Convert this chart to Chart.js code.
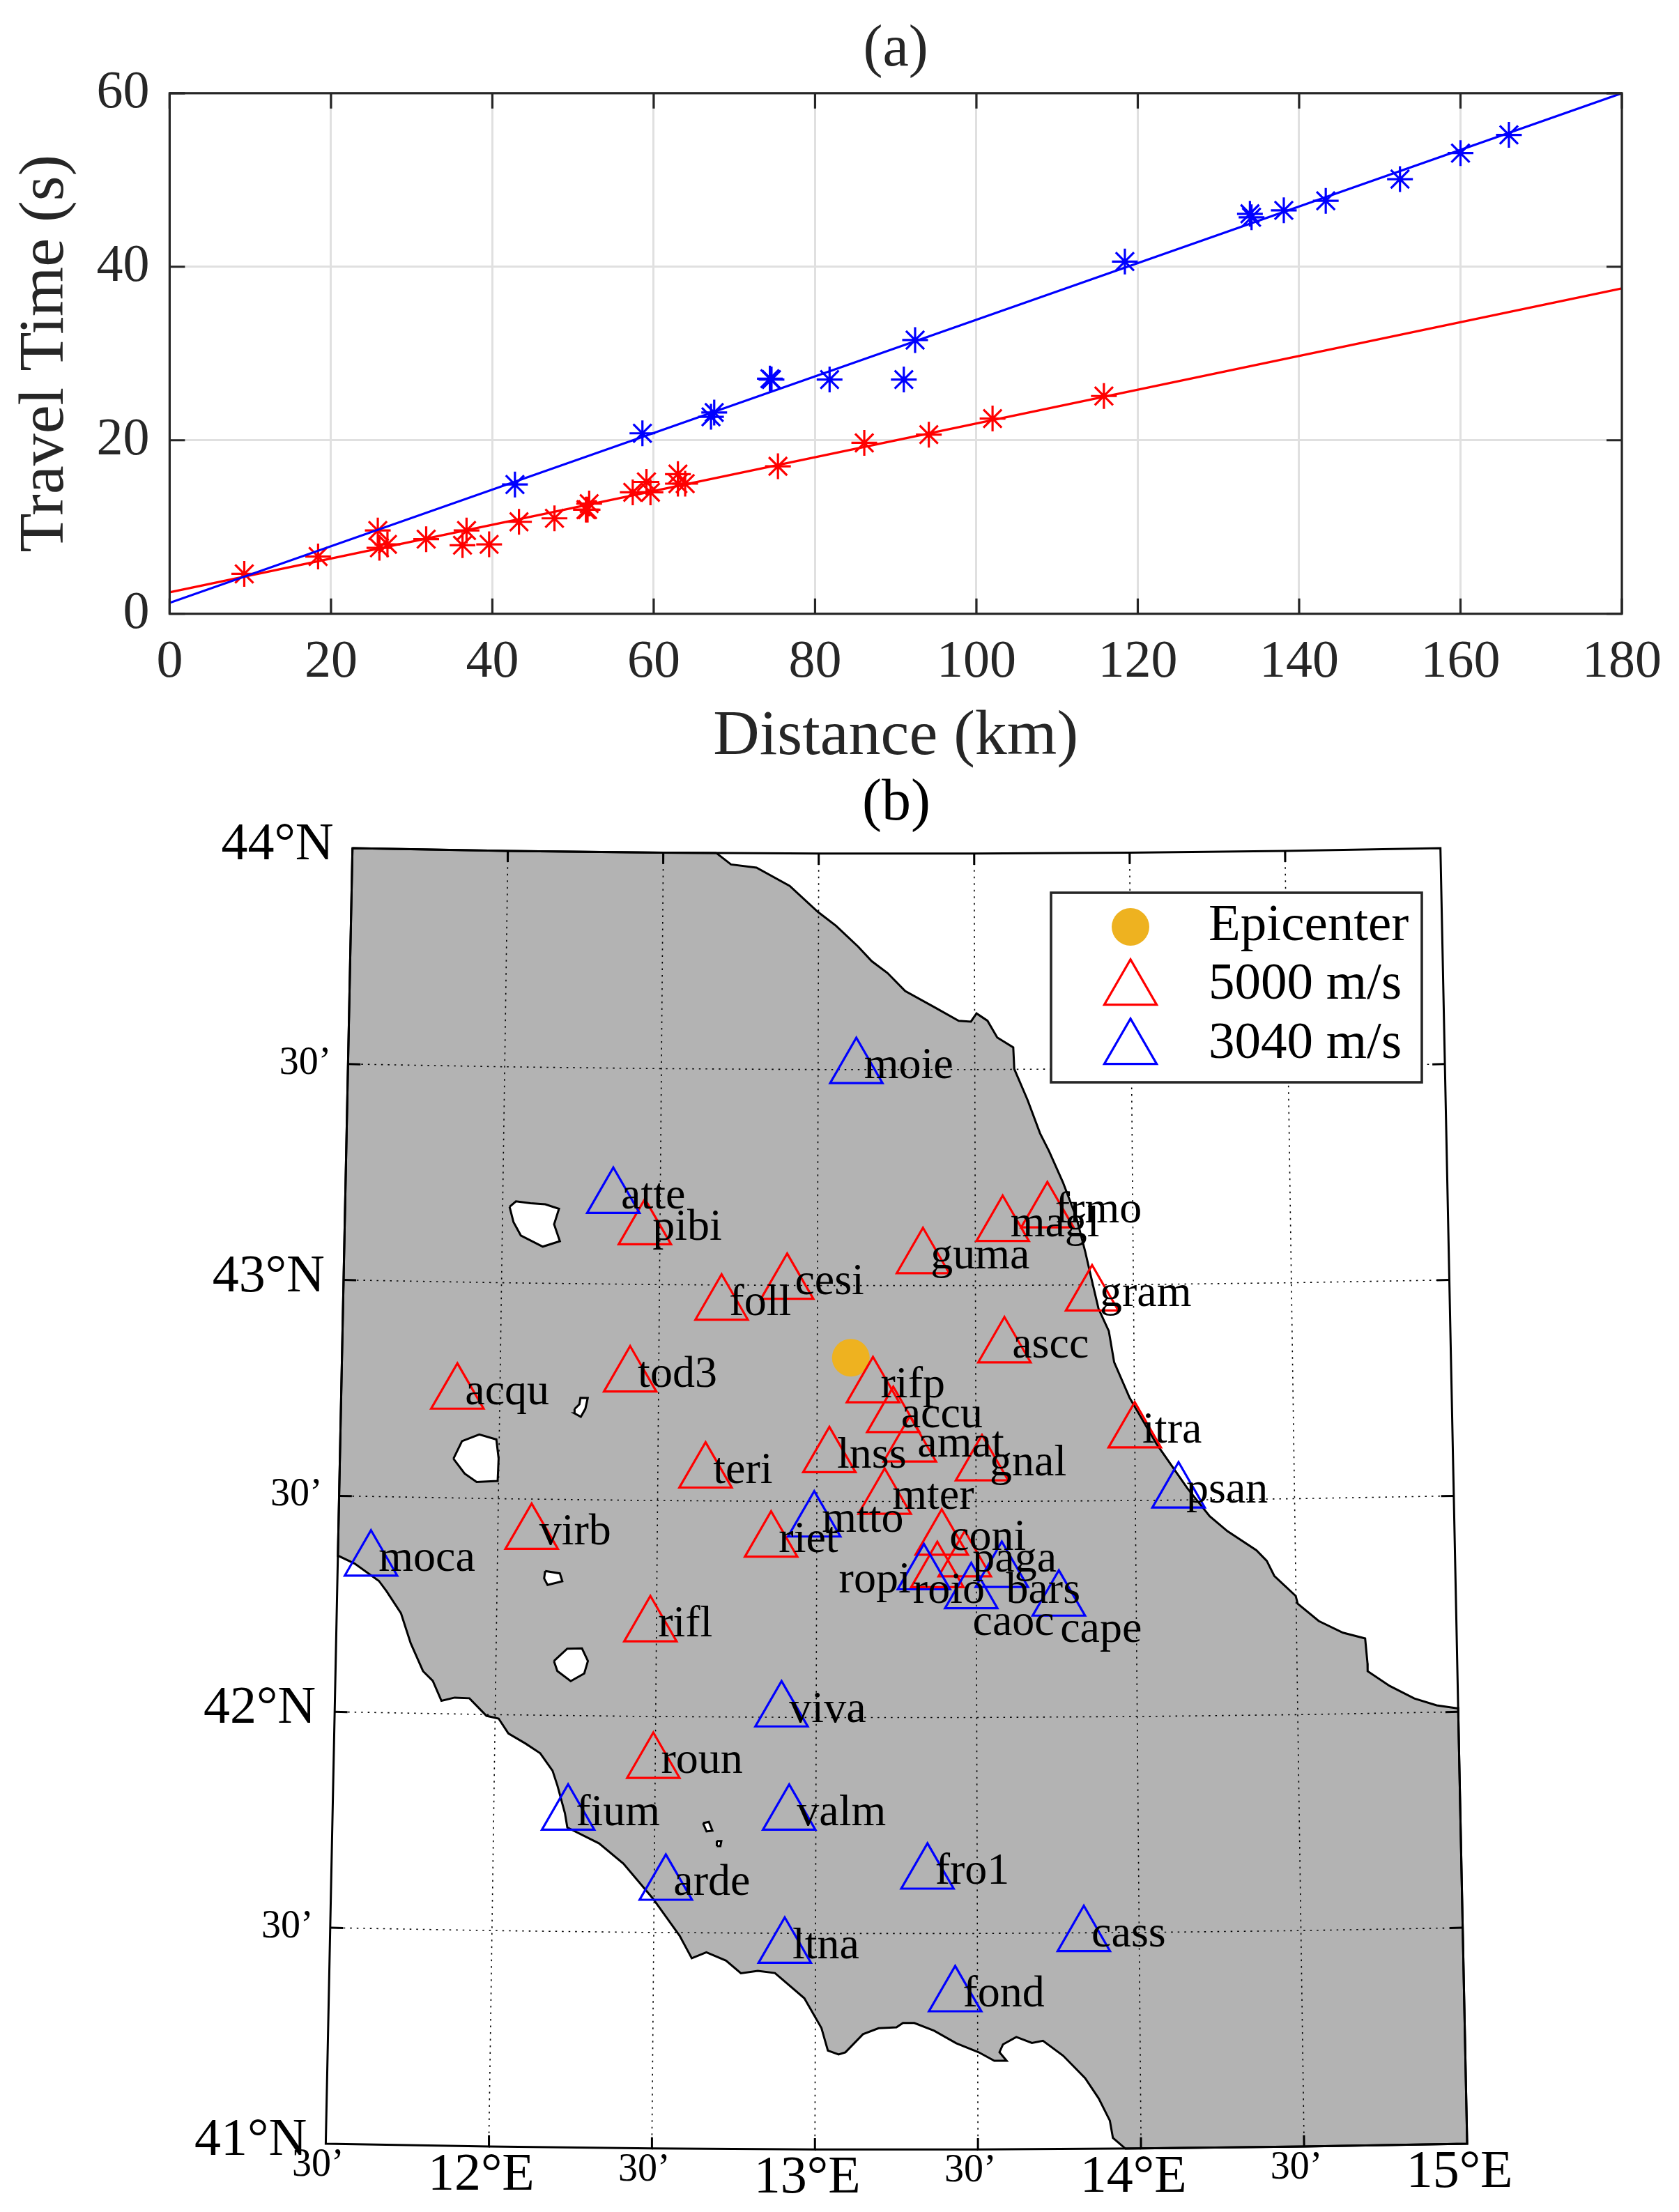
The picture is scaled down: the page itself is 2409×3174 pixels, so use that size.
<!DOCTYPE html>
<html><head><meta charset="utf-8"><title>Travel time and station map</title>
<style>html,body{margin:0;background:#fff}canvas{position:absolute;left:0}#a{top:0}#b{top:1090px}</style>
<script src="https://cdn.jsdelivr.net/npm/chart.js@4/dist/chart.umd.js"></script></head>
<body><canvas id="a" width="2409" height="1130"></canvas><canvas id="b" width="2409" height="2084"></canvas>
<script>
// ---- panel (a) data
const xTicks=[0,20,40,60,80,100,120,140,160,180];
const yTicks=[0,20,40,60];
const redDist=[9.25,18.4,25.8,26.0,27.0,31.8,36.3,36.8,39.6,43.3,47.7,51.6,51.8,52.0,57.4,59.1,59.6,63.0,63.0,63.9,75.4,86.1,94.1,102.0,115.8];
const redTime=[4.6,6.6,9.6,7.6,8.0,8.6,7.9,9.6,8.0,10.6,11.0,12.0,12.0,12.7,14.0,15.2,14.0,16.1,15.0,15.0,17.0,19.7,20.65,22.5,25.1];
const blueDist=[42.8,58.6,67.1,67.5,74.4,74.6,81.8,91.0,92.4,118.4,133.9,134.1,138.1,143.3,152.5,160.0,166.0];
const blueTime=[14.9,20.8,22.7,23.2,27.1,27.0,27.0,27.0,31.55,40.6,46.1,45.7,46.5,47.6,50.1,53.1,55.2];
const redFitX=[0,180],redFitY=[2.47,37.5];
const blueFitX=[0,180],blueFitY=[1.26,60];
// ---- panel (b) data: [lon,lat]
const coastNE=[[12.671,44.000],[12.718,43.974],[12.800,43.967],[12.907,43.925],[12.998,43.865],[13.056,43.833],[13.127,43.785],[13.171,43.751],[13.221,43.724],[13.278,43.682],[13.373,43.644],[13.449,43.613],[13.488,43.611],[13.506,43.630],[13.541,43.613],[13.572,43.574],[13.623,43.551],[13.626,43.501],[13.668,43.429],[13.707,43.352],[13.735,43.311],[13.779,43.238],[13.821,43.156],[13.848,43.078],[13.865,43.022],[13.889,42.945],[13.921,42.893],[13.937,42.821],[13.985,42.738],[14.068,42.631],[14.164,42.527],[14.233,42.462],[14.288,42.427],[14.378,42.382],[14.410,42.357],[14.433,42.322],[14.499,42.275],[14.505,42.257],[14.570,42.216],[14.645,42.188],[14.714,42.174],[14.720,42.116],[14.720,42.098],[14.788,42.063],[14.864,42.033],[14.933,42.016],[14.997,42.008]];
const coastSW=[[13.952,41.000],[13.914,41.025],[13.905,41.065],[13.871,41.117],[13.830,41.164],[13.763,41.216],[13.701,41.251],[13.667,41.246],[13.619,41.260],[13.578,41.243],[13.567,41.225],[13.589,41.205],[13.551,41.205],[13.503,41.225],[13.434,41.246],[13.366,41.275],[13.305,41.293],[13.270,41.293],[13.250,41.283],[13.195,41.281],[13.147,41.267],[13.093,41.225],[13.072,41.220],[13.039,41.229],[13.019,41.281],[12.966,41.350],[12.875,41.408],[12.822,41.413],[12.770,41.407],[12.724,41.436],[12.663,41.455],[12.618,41.441],[12.580,41.493],[12.496,41.579],[12.404,41.659],[12.328,41.705],[12.229,41.741],[12.221,41.774],[12.197,41.837],[12.181,41.872],[12.142,41.912],[12.096,41.934],[12.042,41.957],[12.011,41.991],[11.973,41.997],[11.919,42.037],[11.873,42.038],[11.832,42.030],[11.804,42.076],[11.773,42.098],[11.733,42.162],[11.701,42.231],[11.654,42.282],[11.630,42.305],[11.553,42.344],[11.502,42.361]];
const lakes=[
 [[12.022,43.176],[12.042,43.189],[12.088,43.185],[12.135,43.183],[12.179,43.173],[12.164,43.137],[12.183,43.098],[12.129,43.085],[12.059,43.110],[12.035,43.141]],
 [[12.236,42.710],[12.251,42.721],[12.254,42.736],[12.277,42.736],[12.270,42.711],[12.256,42.692],[12.236,42.700]],
 [[11.857,42.591],[11.883,42.632],[11.937,42.648],[11.991,42.637],[11.999,42.593],[11.997,42.541],[11.931,42.538],[11.893,42.557]],
 [[12.150,42.334],[12.196,42.329],[12.204,42.311],[12.158,42.302],[12.147,42.317]],
 [[12.181,42.126],[12.222,42.155],[12.268,42.156],[12.287,42.127],[12.276,42.098],[12.234,42.080],[12.192,42.103]],
 [[12.650,41.754],[12.668,41.757],[12.679,41.737],[12.661,41.735]],
 [[12.693,41.713],[12.707,41.713],[12.704,41.701],[12.693,41.701]]];
const epicenter=[[13.106,42.833]];
const redStations=[['frmo',13.729,43.169],['magl',13.587,43.138],['guma',13.334,43.064],['gram',13.869,42.976],['ascc',13.591,42.857],['rifp',13.176,42.765],['accu',13.240,42.696],['itra',14.000,42.658],['pibi',12.452,43.128],['cesi',12.904,43.004],['foll',12.697,42.955],['tod3',12.410,42.787],['acqu',11.866,42.742],['gnal',13.519,42.584],['amat',13.292,42.628],['lnss',13.039,42.603],['teri',12.650,42.566],['mter',13.213,42.507],['riet',12.857,42.407],['virb',12.106,42.420],['rifl',12.481,42.209],['roun',12.494,41.893],['coni',13.392,42.412],['paga',13.464,42.362],['roio',13.378,42.337]];
const blueStations=[['moie',13.122,43.504],['atte',12.351,43.200],['mtto',12.992,42.454],['moca',11.604,42.352],['viva',12.892,42.014],['fium',12.231,41.771],['valm',12.917,41.775],['arde',12.536,41.611],['ltna',12.905,41.467],['fro1',13.346,41.639],['cass',13.829,41.493],['fond',13.431,41.355],['psan',14.136,42.518],['ropi',13.336,42.332],['caoc',13.484,42.288],['bars',13.580,42.337],['cape',13.758,42.270]];
const lonTicks=[[11.5,'30’'],[12,'12°E'],[12.5,'30’'],[13,'13°E'],[13.5,'30’'],[14,'14°E'],[14.5,'30’'],[15,'15°E']];
const latTicks=[[41,'41°N'],[41.5,'30’'],[42,'42°N'],[42.5,'30’'],[43,'43°N'],[43.5,'30’'],[44,'44°N']];
const legendNames=['Epicenter','5000 m/s','3040 m/s'];

// ---- styles / layout
const SERIF="'Liberation Serif'";
const INK='#262626',GRID='#e0e0e0',RED='#ff0000',BLUE='#0000ff',GOLD='#eeb220',LAND='#b3b3b3';
const labelShift={ropi:[-122,26],roio:[-35,44],bars:[6,45],caoc:[2,60],cape:[2,59]};
const zip=(xs,ys)=>xs.map((x,i)=>({x,y:ys[i]}));

// panel (a)
const boxPlugin={id:'box',afterDatasetsDraw(c){
 const {ctx,chartArea:A,scales:{x,y}}=c;ctx.save();ctx.strokeStyle=INK;ctx.lineWidth=3.2;
 ctx.strokeRect(A.left,A.top,A.right-A.left,A.bottom-A.top);
 ctx.beginPath();const L=22;
 xTicks.forEach(v=>{const p=x.getPixelForValue(v);ctx.moveTo(p,A.bottom);ctx.lineTo(p,A.bottom-L);ctx.moveTo(p,A.top);ctx.lineTo(p,A.top+L);});
 yTicks.forEach(v=>{const p=y.getPixelForValue(v);ctx.moveTo(A.left,p);ctx.lineTo(A.left+L,p);ctx.moveTo(A.right,p);ctx.lineTo(A.right-L,p);});
 ctx.stroke();ctx.restore();}};
new Chart(document.getElementById('a'),{type:'scatter',
 data:{datasets:[
  {label:'fit 5000 m/s',data:zip(redFitX,redFitY),showLine:true,borderColor:RED,borderWidth:3.3,pointRadius:0,order:3},
  {label:'fit 3040 m/s',data:zip(blueFitX,blueFitY),showLine:true,borderColor:BLUE,borderWidth:3.3,pointRadius:0,order:1},
  {label:'5000 m/s',data:zip(redDist,redTime),pointStyle:'star',pointRadius:18.5,borderColor:RED,pointBorderColor:RED,pointBorderWidth:3.2,order:4},
  {label:'3040 m/s',data:zip(blueDist,blueTime),pointStyle:'star',pointRadius:18.5,borderColor:BLUE,pointBorderColor:BLUE,pointBorderWidth:3.2,order:2}]},
 options:{responsive:false,devicePixelRatio:1,animation:false,
  layout:{autoPadding:false,padding:{top:0,right:81,left:0,bottom:0}},
  plugins:{legend:{display:false},tooltip:{enabled:false},
   title:{display:true,text:'(a)',fullSize:false,color:INK,font:{family:SERIF,size:84,weight:'normal'},padding:{top:22,bottom:11}}},
  scales:{
   x:{type:'linear',min:0,max:180,afterBuildTicks(s){s.ticks=xTicks.map(value=>({value}));},afterFit(s){s.height=249.3;},
    grid:{color:GRID,lineWidth:3,drawTicks:false,tickLength:0},border:{display:false},
    ticks:{color:INK,padding:25,maxRotation:0,font:{family:SERIF,size:76}},
    title:{display:true,text:'Distance (km)',color:INK,font:{family:SERIF,size:92},padding:{top:0,bottom:17}}},
   y:{type:'linear',min:0,max:60,afterBuildTicks(s){s.ticks=yTicks.map(value=>({value}));},afterFit(s){s.width=243.4;},
    grid:{color:GRID,lineWidth:3,drawTicks:false,tickLength:0},border:{display:false},
    ticks:{color:INK,padding:29,font:{family:SERIF,size:76}},
    title:{display:true,text:'Travel Time (s)',color:INK,font:{family:SERIF,size:92},padding:{top:11,bottom:0}}}}},
 plugins:[boxPlugin]});

// panel (b): conic map projection of lon/lat into the chart's linear axes
const N=Math.sin(42.5*Math.PI/180),R0=62.53;
function P(lon,lat){const r=R0-(lat-42.5),t=N*(lon-13.25)*Math.PI/180;return {x:r*Math.sin(t),y:R0-r*Math.cos(t)};}
const PP=a=>a.map(p=>P(p[0],p[1]));
const lons=lonTicks.map(t=>t[0]),lats=latTicks.map(t=>t[0]);
const frameTop=lons.map(l=>[l,44]),frameBot=lons.map(l=>[l,41]).reverse();
const land=[...coastNE,[15,42.008],[15,41],[14.5,41],...coastSW,[11.5,42.361],[11.5,44],[12,44],[12.5,44],coastNE[0]];
const frameLine=[...frameTop,...frameBot,frameTop[0]];
const ds=[];
const addLine=(data,o)=>ds.push(Object.assign({data,showLine:true,pointRadius:0,borderColor:'#000',borderWidth:3,tension:0},o));
addLine(PP(land),{label:'land',fill:'shape',backgroundColor:LAND,borderWidth:3,order:50});
lakes.forEach((l,i)=>addLine(PP([...l,l[0]]),{label:'lake'+i,fill:'shape',backgroundColor:'#fff',borderWidth:3,order:40}));
const dash={borderWidth:1.6,borderDash:[2.5,7],order:30,borderColor:'#000'};
lons.slice(1,-1).forEach(l=>addLine([P(l,41),P(l,44)],Object.assign({label:'meridian'},dash)));
lats.slice(1,-1).forEach(a=>addLine(lons.map(l=>P(l,a)),Object.assign({label:'parallel'},dash)));
addLine(PP(frameLine),{label:'frame',order:25});
const tickPts=[];
lons.slice(1,-1).forEach(l=>{tickPts.push(P(l,44),P(l,43.974),{x:null,y:null},P(l,41),P(l,41.026),{x:null,y:null});});
lats.slice(1,-1).forEach(a=>{tickPts.push(P(11.5,a),P(11.54,a),{x:null,y:null},P(15,a),P(14.96,a),{x:null,y:null});});
addLine(tickPts,{label:'ticks',spanGaps:false,order:24});
ds.push({label:legendNames[0],data:PP(epicenter),pointStyle:'circle',pointRadius:27,pointBackgroundColor:GOLD,pointBorderColor:GOLD,pointBorderWidth:0,order:12});
const tri=(list,col,name,o)=>ds.push({label:name,data:list.map(s=>P(s[1],s[2])),pointStyle:'triangle',pointRadius:43.4,pointBackgroundColor:'rgba(0,0,0,0)',pointBorderColor:col,pointBorderWidth:3.2,order:o});
tri(redStations,RED,legendNames[1],11);
tri(blueStations,BLUE,legendNames[2],10);

const mapText={id:'mapText',afterDatasetsDraw(c){
 const {ctx,scales:{x,y}}=c;const px=p=>[x.getPixelForValue(p.x),y.getPixelForValue(p.y)];
 ctx.save();ctx.fillStyle='#000';ctx.textBaseline='alphabetic';
 // station names
 ctx.font='64px '+SERIF;ctx.textAlign='left';
 [...redStations,...blueStations].forEach(s=>{const [X,Y]=px(P(s[1],s[2]));const d=labelShift[s[0]]||[11,15];ctx.fillText(s[0],X+d[0],Y+d[1]);});
 // latitude labels
 ctx.textAlign='right';
 latTicks.forEach(t=>{const big=t[1]!=='30’';const [X,Y]=px(P(11.5,t[0]));ctx.font=(big?76:56)+'px '+SERIF;ctx.fillText(t[1],X-(big?27:24),Y+(big?16:14));});
 // longitude labels
 ctx.textAlign='center';
 lonTicks.forEach(t=>{const big=t[1]!=='30’';const [X,Y]=px(P(t[0],41));ctx.font=(big?76:56)+'px '+SERIF;ctx.fillText(t[1],X-11,Y+(big?62:46));});
 // legend
 const bx=1508,by=1281-1090,bw=532,bh=272;
 ctx.fillStyle='#fff';ctx.fillRect(bx,by,bw,bh);ctx.strokeStyle=INK;ctx.lineWidth=3.6;ctx.strokeRect(bx,by,bw,bh);
 const mx=1622,rows=[49,139,224],base=[68,152,237];
 ctx.beginPath();ctx.fillStyle=GOLD;ctx.arc(mx,by+rows[0],27,0,7);ctx.fill();
 [[RED,1],[BLUE,2]].forEach(([col,i])=>{ctx.strokeStyle=col;ctx.lineWidth=3.2;ctx.fillStyle='rgba(0,0,0,0)';
  Chart.helpers.drawPoint(ctx,{pointStyle:'triangle',radius:43.4,borderWidth:3.2,rotation:0},mx,by+rows[i]);});
 ctx.fillStyle='#000';ctx.font='75px '+SERIF;ctx.textAlign='left';
 legendNames.forEach((n,i)=>ctx.fillText(n,1734,by+base[i]));
 ctx.restore();}};
new Chart(document.getElementById('b'),{type:'scatter',data:{datasets:ds},
 options:{responsive:false,devicePixelRatio:1,animation:false,
  layout:{autoPadding:false,padding:{left:300,right:137,top:0,bottom:24}},
  plugins:{legend:{display:false},tooltip:{enabled:false},
   title:{display:true,text:'(b)',fullSize:false,color:'#000',font:{family:SERIF,size:84,weight:'normal'},padding:{top:13.6,bottom:5.6}}},
  scales:{x:{type:'linear',display:false,min:-1.5912,max:1.5905},y:{type:'linear',display:false,min:-1.60584,max:1.5242}}},
 plugins:[mapText]});
</script></body></html>
